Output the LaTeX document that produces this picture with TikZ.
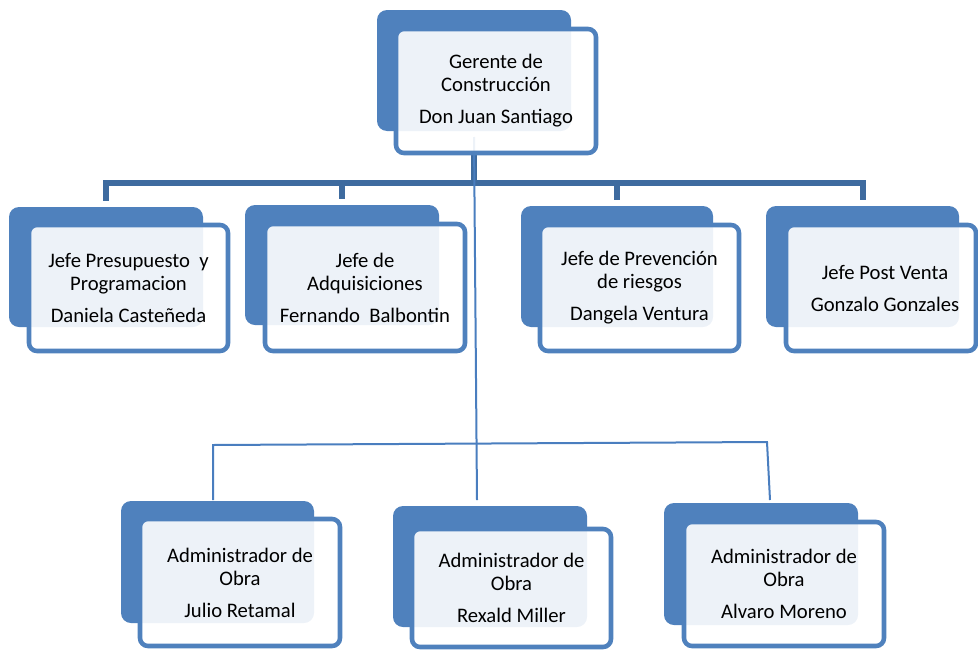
\documentclass[tikz,border=0pt]{standalone}
\usepackage{fontspec}
\setmainfont{Carlito}
\usetikzlibrary{calc}
\definecolor{bblue}{HTML}{4F81BD}
\definecolor{dblue}{HTML}{3E6B9F}
\definecolor{tblue}{HTML}{4A7EBF}
\pgfdeclarelayer{bg}
\pgfsetlayers{bg,main}
\begin{document}
\begin{tikzpicture}[x=0.75pt,y=-0.75pt,
  backbox/.style={fill=bblue, draw=none, rounded corners=7.5pt, inner sep=0pt, outer sep=0pt},
  frontbox/.style={draw=bblue, line width=3.4pt, rounded corners=6pt, fill=white, fill opacity=0.9,
    text opacity=1, align=center, inner sep=0pt, outer sep=0pt,
    font=\fontsize{15.5pt}{17.25pt}\selectfont},
  thickconn/.style={draw=dblue, line width=4.5pt},
  thinconn/.style={draw=tblue, line width=1.5pt}]
\useasboundingbox (0,0) rectangle (978,650);

% back boxes
\node[backbox, minimum width=145.5pt, minimum height=90.75pt] (topback) at (474,70.5) {};
\node[backbox, minimum width=145.5pt, minimum height=90pt] (b1back) at (106,267) {};
\node[backbox, minimum width=145.5pt, minimum height=90pt] (b2back) at (342,265) {};
\node[backbox, minimum width=144pt, minimum height=90.75pt] (b3back) at (617,266.5) {};
\node[backbox, minimum width=144.75pt, minimum height=90.75pt] (b4back) at (862.5,266.5) {};
\node[backbox, minimum width=144.75pt, minimum height=91.5pt] (b5back) at (217.5,562) {};
\node[backbox, minimum width=145.5pt, minimum height=90.75pt] (b6back) at (490,566.5) {};
\node[backbox, minimum width=145.5pt, minimum height=91.5pt] (b7back) at (761,564) {};

% front boxes
\node[frontbox, minimum width=150pt, minimum height=93pt] (top) at (496,91)
  {Gerente de\\Construcción\\[6.75pt]Don Juan Santiago};
\node[frontbox, minimum width=149.25pt, minimum height=94.5pt] (b1) at (128.5,288)
  {Jefe Presupuesto\ \ y\\Programacion\\[6.75pt]Daniela Casteñeda};
\node[frontbox, minimum width=150pt, minimum height=95.25pt] (b2) at (365,287.5)
  {Jefe de\\Adquisiciones\\[6.75pt]Fernando\ \ Balbontin};
\node[frontbox, minimum width=149.25pt, minimum height=94.5pt] (b3) at (639.5,288)
  {Jefe de Prevención\\de riesgos\\[6.75pt]Dangela Ventura};
\node[frontbox, minimum width=142.5pt, minimum height=94.5pt] (b4) at (881,288)
  {\hspace*{6pt}Jefe Post Venta\\[6.75pt]\hspace*{6pt}Gonzalo Gonzales};
\node[frontbox, minimum width=150pt, minimum height=95.25pt] (b5) at (240,582.5)
  {Administrador de\\Obra\\[6.75pt]Julio Retamal};
\node[frontbox, minimum width=149.25pt, minimum height=88.5pt] (b6) at (511.5,588)
  {Administrador de\\Obra\\[6.75pt]Rexald Miller};
\node[frontbox, minimum width=150pt, minimum height=93pt] (b7) at (784,584)
  {Administrador de\\Obra\\[6.75pt]Alvaro Moreno};

% connector coordinates
\coordinate (hub) at (474,183);
\coordinate (c6) at (477,500);
\coordinate (c5) at (213,500);
\coordinate (c7) at (770,500);
\coordinate (bl) at (213,445);
\coordinate (br) at (767,442);

\begin{pgfonlayer}{bg}
  \draw[thickconn] (hub |- top.south) -- (hub);
  \draw[thickconn, shorten >=4.5pt] (hub) -| (b1back.north);
  \draw[thickconn, shorten >=4.5pt] (hub) -| (b2back.north);
  \draw[thickconn, shorten >=4.5pt] (hub) -| (b3back.north);
  \draw[thickconn, shorten >=4.5pt] (hub) -| (b4back.north);
  \draw[thinconn] ($(hub |- top.south)+(0,-16)$) -- (c6);
  \draw[thinconn] (c5) -- (bl) -- (br) -- (c7);
\end{pgfonlayer}
\end{tikzpicture}
\end{document}
